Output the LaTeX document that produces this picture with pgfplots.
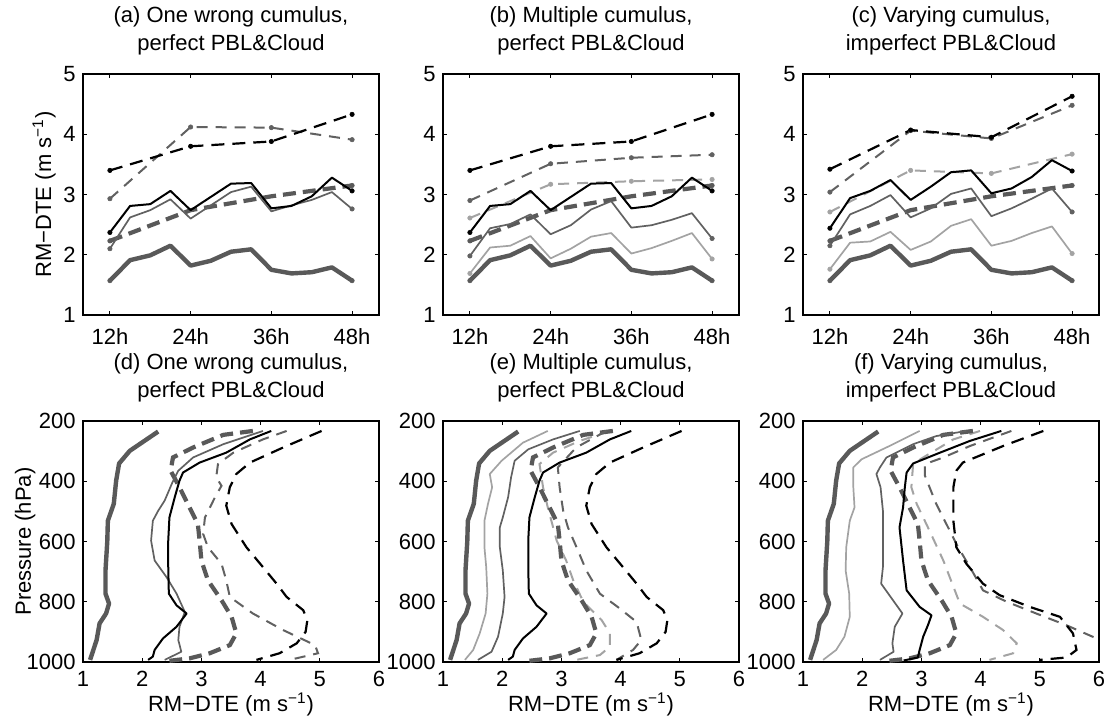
\documentclass[border=0pt]{standalone}
\usepackage{fontspec}
\setmainfont{Liberation Sans}
\usepackage{pgfplots}
\usepackage{pgfplotstable}
\pgfplotsset{compat=1.18}
\definecolor{dg}{gray}{0.35}
\definecolor{mg}{gray}{0.38}
\definecolor{lg}{gray}{0.64}

\pgfplotstableread{
h  ctrl bsab ma   mb   lb   bsc  mc   lc
12 1.57 2.37 2.10 1.98 1.69 2.44 2.15 1.76
15 1.91 2.81 2.62 2.44 2.12 2.94 2.67 2.20
18 1.99 2.84 2.74 2.51 2.15 3.06 2.81 2.22
21 2.15 3.06 2.92 2.67 2.31 3.24 2.99 2.38
24 1.82 2.74 2.60 2.34 1.94 2.91 2.62 2.08
27 1.90 2.96 2.82 2.49 2.10 3.13 2.77 2.22
30 2.05 3.18 3.04 2.75 2.30 3.37 3.01 2.48
33 2.09 3.19 3.13 2.89 2.36 3.40 3.10 2.59
36 1.75 2.77 2.72 2.45 2.02 3.02 2.64 2.15
39 1.69 2.81 2.82 2.49 2.11 3.10 2.77 2.23
42 1.71 2.97 2.91 2.58 2.23 3.29 2.93 2.36
45 1.79 3.28 3.04 2.69 2.36 3.57 3.10 2.47
48 1.57 3.06 2.76 2.27 1.93 3.39 2.71 2.02
}\hourly

\pgfplotstableread{
h  td   bdab mda  mdb  ldb  bdc  mdc  ldc
12 2.23 3.40 2.93 2.90 2.61 3.42 3.04 2.71
24 2.74 3.80 4.12 3.51 3.17 4.07 4.06 3.40
36 2.97 3.88 4.11 3.61 3.22 3.95 3.93 3.35
48 3.15 4.33 3.91 3.66 3.25 4.63 4.48 3.67
}\daily

\pgfplotsset{
 mybase/.style={scale only axis, width=148pt, height=120.5pt, anchor=south west,
   axis line style={line width=0.6pt}, tick style={black, line width=0.5pt},
   major tick length=1.8pt, tick align=inside, tick pos=both,
   /pgf/number format/assume math mode=true, /pgf/number format/1000 sep={},
   tick label style={font=\fontsize{11}{13}\selectfont, inner sep=0pt},
   yticklabel style={xshift=-3.5pt},
   label style={font=\fontsize{11}{13}\selectfont, inner sep=0pt},
   title style={font=\fontsize{11}{14}\selectfont, align=center, anchor=south,
     inner sep=0pt, yshift=3.5pt, at={(0.5,1)}},
 },
 rowtop/.style={mybase, xmin=8, xmax=52, ymin=1, ymax=5,
   xtick={12,24,36,48}, xticklabels={12h,24h,36h,48h}, ytick={1,2,3,4,5},
   xticklabel style={yshift=-6.5pt}},
 rowbot/.style={mybase, xmin=1, xmax=6, ymin=200, ymax=1000, y dir=reverse,
   xtick={1,2,3,4,5,6}, ytick={200,400,600,800,1000},
   xticklabel style={yshift=-4.5pt},
   xlabel={RM−DTE (m s\textsuperscript{−1})},
   xlabel style={at={(axis description cs:0.5,-0.207)}, anchor=base}},
 ctrl/.style={dg, line width=2.2pt, line join=round},
 bsol/.style={black, line width=1pt, line join=round},
 msol/.style={mg, line width=0.85pt, line join=round},
 lsol/.style={lg, line width=0.85pt, line join=round},
 tdash/.style={dg, line width=2.1pt, dash pattern=on 6.5pt off 3.5pt},
 bdash/.style={black, line width=1.1pt, dash pattern=on 6.5pt off 4pt},
 mdash/.style={mg, line width=1pt, dash pattern=on 5.5pt off 4pt},
 ldash/.style={lg, line width=1pt, dash pattern=on 5.5pt off 4pt},
 dots/.style={mark=*, mark size=1.1pt, mark options={solid, line width=0.3pt}},
 hdots/.style={mark=*, mark size=1.1pt, mark options={solid, line width=0.3pt}, mark indices={1,13}},
 edots/.style={mark=*, mark size=1.1pt, mark options={solid, line width=0.3pt}, mark indices={1,4}},
}

\begin{document}
\begin{tikzpicture}
\useasboundingbox (0,0) rectangle (553pt,363.5pt);

% (a)
\begin{axis}[rowtop, at={(41.5pt,206pt)},
  title={(a) One wrong cumulus,\\perfect PBL\&Cloud},
  ylabel={RM−DTE (m s\textsuperscript{−1})},
  ylabel style={at={(axis description cs:-0.108,0.5)}, anchor=base}]
\addplot[ctrl, hdots] table[x=h, y=ctrl] {\hourly};
\addplot[tdash, edots] table[x=h, y=td] {\daily};
\addplot[msol, hdots] table[x=h, y=ma] {\hourly};
\addplot[mdash, dots] table[x=h, y=mda] {\daily};
\addplot[bsol, hdots] table[x=h, y=bsab] {\hourly};
\addplot[bdash, dots] table[x=h, y=bdab] {\daily};
\end{axis}

% (b)
\begin{axis}[rowtop, at={(221.5pt,206pt)},
  title={(b) Multiple cumulus,\\perfect PBL\&Cloud}]
\addplot[ctrl, hdots] table[x=h, y=ctrl] {\hourly};
\addplot[lsol, hdots] table[x=h, y=lb] {\hourly};
\addplot[ldash, dots] table[x=h, y=ldb] {\daily};
\addplot[tdash, edots] table[x=h, y=td] {\daily};
\addplot[msol, hdots] table[x=h, y=mb] {\hourly};
\addplot[mdash, dots] table[x=h, y=mdb] {\daily};
\addplot[bsol, hdots] table[x=h, y=bsab] {\hourly};
\addplot[bdash, dots] table[x=h, y=bdab] {\daily};
\end{axis}

% (c)
\begin{axis}[rowtop, at={(401.5pt,206pt)},
  title={(c) Varying cumulus,\\imperfect PBL\&Cloud}]
\addplot[ctrl, hdots] table[x=h, y=ctrl] {\hourly};
\addplot[lsol, hdots] table[x=h, y=lc] {\hourly};
\addplot[ldash, dots] table[x=h, y=ldc] {\daily};
\addplot[tdash, edots] table[x=h, y=td] {\daily};
\addplot[msol, hdots] table[x=h, y=mc] {\hourly};
\addplot[mdash, dots] table[x=h, y=mdc] {\daily};
\addplot[bsol, hdots] table[x=h, y=bsc] {\hourly};
\addplot[bdash, dots] table[x=h, y=bdc] {\daily};
\end{axis}

% (d)
\begin{axis}[rowbot, at={(41.5pt,32.5pt)},
  title={(d) One wrong cumulus,\\perfect PBL\&Cloud},
  ylabel={Pressure (hPa)},
  ylabel style={at={(axis description cs:-0.176,0.5)}, anchor=base}]
\addplot[ctrl] coordinates {(2.27,235) (1.79,299) (1.61,341) (1.56,398) (1.52,475) (1.42,531) (1.41,600) (1.38,696) (1.38,773) (1.44,806) (1.39,839) (1.28,872) (1.23,927) (1.12,993)};
\addplot[tdash] coordinates {(3.87,233) (3.37,246) (2.86,288) (2.52,321) (2.48,365) (2.63,420) (2.80,487) (2.94,542) (2.97,597) (3.00,663) (3.11,729) (3.34,795) (3.51,850) (3.59,905) (3.48,944) (3.14,971) (2.80,988) (2.46,996)};
\addplot[msol] coordinates {(4.04,233) (3.37,277) (2.86,321) (2.61,365) (2.51,404) (2.38,464) (2.27,498) (2.18,531) (2.15,597) (2.21,663) (2.41,718) (2.58,773) (2.72,834) (2.63,883) (2.61,927) (2.66,966) (2.38,993)};
\addplot[mdash] coordinates {(4.44,233) (4.04,261) (3.54,305) (3.28,343) (3.25,387) (3.34,415) (3.23,453) (3.06,520) (3.03,575) (3.11,619) (3.34,674) (3.42,729) (3.48,784) (3.87,839) (4.38,894) (4.92,944) (4.97,971) (4.49,993)};
\addplot[bsol] coordinates {(4.18,233) (3.82,261) (3.42,305) (2.97,338) (2.69,371) (2.63,398) (2.55,453) (2.46,520) (2.44,597) (2.44,685) (2.45,773) (2.58,812) (2.75,839) (2.58,883) (2.35,922) (2.21,960) (2.18,982) (2.10,993)};
\addplot[bdash] coordinates {(5.03,233) (4.38,288) (3.82,338) (3.59,376) (3.48,420) (3.42,481) (3.51,542) (3.76,619) (4.04,685) (4.27,740) (4.44,784) (4.72,828) (4.79,861) (4.76,900) (4.61,938) (4.32,971) (3.93,993)};
\end{axis}

% (e)
\begin{axis}[rowbot, at={(221.5pt,32.5pt)},
  title={(e) Multiple cumulus,\\perfect PBL\&Cloud}]
\addplot[ctrl] coordinates {(2.27,235) (1.79,299) (1.61,341) (1.56,398) (1.52,475) (1.42,531) (1.41,600) (1.38,696) (1.38,773) (1.44,806) (1.39,839) (1.28,872) (1.23,927) (1.12,993)};
\addplot[lsol] coordinates {(2.77,233) (2.35,272) (1.99,332) (1.79,376) (1.83,420) (1.76,475) (1.70,531) (1.70,619) (1.73,685) (1.75,773) (1.72,839) (1.62,905) (1.51,960) (1.37,993)};
\addplot[ldash] coordinates {(3.82,233) (3.31,266) (2.86,305) (2.63,343) (2.69,420) (2.77,487) (2.83,531) (2.92,597) (3.08,663) (3.20,729) (3.37,800) (3.68,861) (3.82,905) (3.82,949) (3.65,977) (3.25,993)};
\addplot[tdash] coordinates {(3.87,233) (3.37,246) (2.86,288) (2.52,321) (2.48,365) (2.63,420) (2.80,487) (2.94,542) (2.97,597) (3.00,663) (3.11,729) (3.34,795) (3.51,850) (3.59,905) (3.48,944) (3.14,971) (2.80,988) (2.46,996)};
\addplot[msol] coordinates {(3.31,233) (2.86,261) (2.44,294) (2.21,332) (2.15,387) (2.10,453) (2.01,520) (1.96,553) (1.96,619) (2.01,696) (2.04,784) (2.01,839) (1.93,916) (1.82,966) (1.59,993)};
\addplot[mdash] coordinates {(3.76,233) (3.25,288) (2.94,354) (2.97,420) (3.03,498) (3.11,553) (3.28,630) (3.42,696) (3.65,773) (3.99,823) (4.27,867) (4.35,927) (4.21,960) (3.93,993)};
\addplot[bsol] coordinates {(4.18,233) (3.82,261) (3.42,305) (2.97,338) (2.69,371) (2.63,398) (2.55,453) (2.46,520) (2.44,597) (2.44,685) (2.45,773) (2.58,812) (2.75,839) (2.58,883) (2.35,922) (2.21,960) (2.18,982) (2.10,993)};
\addplot[bdash] coordinates {(5.03,233) (4.38,288) (3.82,338) (3.59,376) (3.48,420) (3.42,481) (3.51,542) (3.76,619) (4.04,685) (4.27,740) (4.44,784) (4.72,828) (4.79,861) (4.76,900) (4.61,938) (4.32,971) (3.93,993)};
\end{axis}

% (f)
\begin{axis}[rowbot, at={(401.5pt,32.5pt)},
  title={(f) Varying cumulus,\\imperfect PBL\&Cloud}]
\addplot[ctrl] coordinates {(2.27,235) (1.79,299) (1.61,341) (1.56,398) (1.52,475) (1.42,531) (1.41,600) (1.38,696) (1.38,773) (1.44,806) (1.39,839) (1.28,872) (1.23,927) (1.12,993)};
\addplot[lsol] coordinates {(2.97,233) (2.46,283) (1.99,327) (1.85,354) (1.85,420) (1.87,487) (1.79,531) (1.73,619) (1.72,696) (1.78,773) (1.79,850) (1.70,916) (1.56,960) (1.34,993)};
\addplot[ldash] coordinates {(3.99,233) (3.54,261) (3.03,321) (2.86,343) (2.83,420) (2.92,475) (3.11,553) (3.37,663) (3.65,806) (4.04,850) (4.38,894) (4.61,938) (4.55,971) (4.15,993)};
\addplot[tdash] coordinates {(3.87,233) (3.37,246) (2.86,288) (2.52,321) (2.48,365) (2.63,420) (2.80,487) (2.94,542) (2.97,597) (3.00,663) (3.11,729) (3.34,795) (3.51,850) (3.59,905) (3.48,944) (3.14,971) (2.80,988) (2.46,996)};
\addplot[msol] coordinates {(3.76,233) (3.25,250) (2.86,277) (2.41,321) (2.30,354) (2.24,376) (2.31,420) (2.35,498) (2.35,619) (2.35,685) (2.32,740) (2.52,795) (2.68,839) (2.55,883) (2.51,938) (2.53,966) (2.30,993)};
\addplot[mdash] coordinates {(4.52,233) (3.82,283) (3.37,321) (3.06,343) (3.06,382) (3.25,475) (3.45,553) (3.62,619) (3.82,685) (4.04,762) (4.44,800) (4.94,839) (5.45,878) (6.02,927) (6.40,960)};
\addplot[bsol] coordinates {(4.35,233) (3.82,266) (3.25,310) (2.86,341) (2.75,371) (2.72,420) (2.69,487) (2.63,553) (2.69,663) (2.75,762) (2.97,817) (3.17,845) (3.11,878) (3.03,916) (2.97,960) (2.94,985) (2.70,995)};
\addplot[bdash] coordinates {(5.06,233) (4.38,283) (3.70,338) (3.59,365) (3.54,420) (3.54,531) (3.59,619) (3.76,674) (4.04,740) (4.32,778) (4.83,817) (5.34,850) (5.56,905) (5.62,960) (5.45,985) (5.00,993)};
\end{axis}
\end{tikzpicture}
\end{document}
